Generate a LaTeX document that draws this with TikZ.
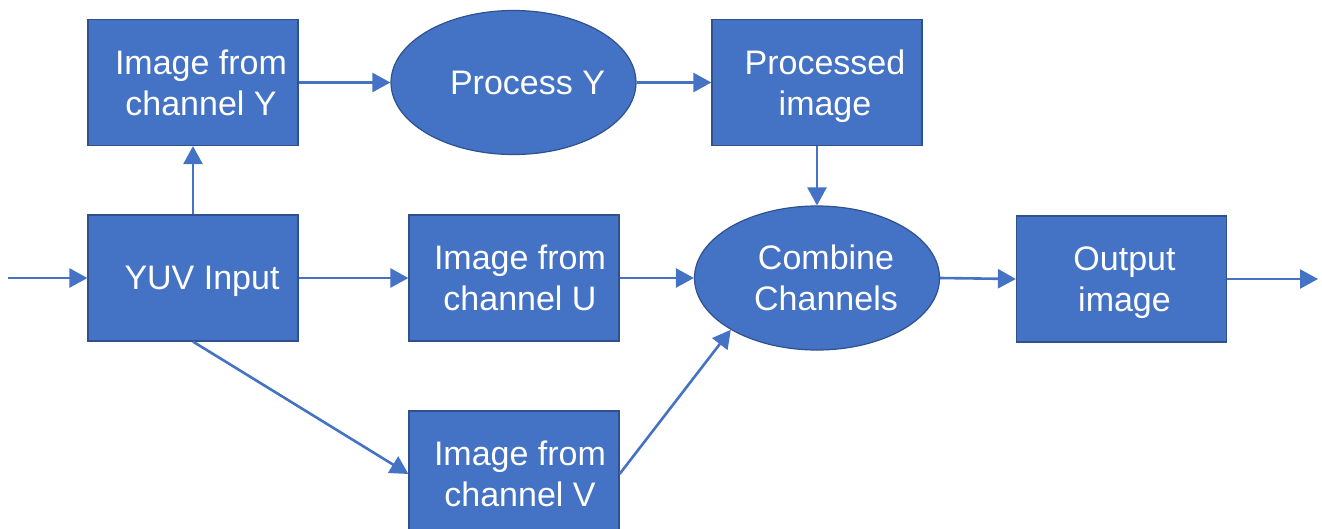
\documentclass[tikz,border=0pt]{standalone}
\usepackage{fontspec}
\setmainfont{Liberation Sans}
\usetikzlibrary{shapes.geometric,arrows.meta}
\definecolor{officeblue}{HTML}{4472C4}
\definecolor{edgeblue}{HTML}{2F528F}
\tikzset{
  blk/.style={draw=edgeblue, line width=1.2pt, fill=officeblue,
    minimum width=210pt, minimum height=126pt, inner sep=0pt},
  oval/.style={ellipse, draw=edgeblue, line width=1.2pt, fill=officeblue,
    minimum width=245pt, minimum height=144pt, inner sep=0pt},
  txt/.style={text=white, align=center, inner sep=0pt, text depth=0pt,
    font=\fontsize{34}{41}\selectfont},
  flow/.style={draw=officeblue, line width=2.6pt,
    -{Triangle[length=18pt,width=19pt]}}
}
\begin{document}
\begin{tikzpicture}[x=1pt,y=-1pt]
\useasboundingbox (0,0) rectangle (1322,528);
\clip (0,0) rectangle (1322,528);
% blocks and operations
\node[blk]  (chY)  at (193,82.5)  {};
\node[blk]  (yuv)  at (193,278)   {};
\node[blk]  (chU)  at (514,278)   {};
\node[blk]  (chV)  at (514,474)   {};
\node[blk]  (proc) at (817,82.5)  {};
\node[blk]  (outp) at (1121.5,279) {};
\node[oval] (py)   at (513.5,82.5) {};
\node[oval] (comb) at (817,278) {};
% labels
\node[txt] at ([xshift=8pt]chY.center)  {Image from\\channel Y};
\node[txt] at ([xshift=9pt]yuv.center)  {YUV Input};
\node[txt] at ([xshift=6pt]chU.center)  {Image from\\channel U};
\node[txt] at ([xshift=6pt]chV.center)  {Image from\\channel V};
\node[txt] at ([xshift=8pt]proc.center) {Processed\\image};
\node[txt] at ([xshift=3pt]outp.center) {Output\\image};
\node[txt] at ([xshift=14pt]py.center)  {Process Y};
\node[txt] at ([xshift=9pt]comb.center) {Combine\\Channels};
% free ends
\coordinate (src) at (8,278);
\coordinate (dst) at (1318,279);
% connectors
\draw[flow] (src) -- (yuv.west);
\draw[flow] (yuv.north) -- (chY.south);
\draw[flow] (chY) -- (py);
\draw[flow] (py) -- (proc);
\draw[flow] (proc.south) -- (comb.north);
\draw[flow] (yuv) -- (chU);
\draw[flow] (chU) -- (comb);
\draw[flow] (yuv.south) -- (chV.west);
\draw[flow] (chV.east) -- (comb.211);
\draw[flow] (comb.east) -- (outp.west);
\draw[flow] (outp.east) -- (dst);
\end{tikzpicture}
\end{document}
